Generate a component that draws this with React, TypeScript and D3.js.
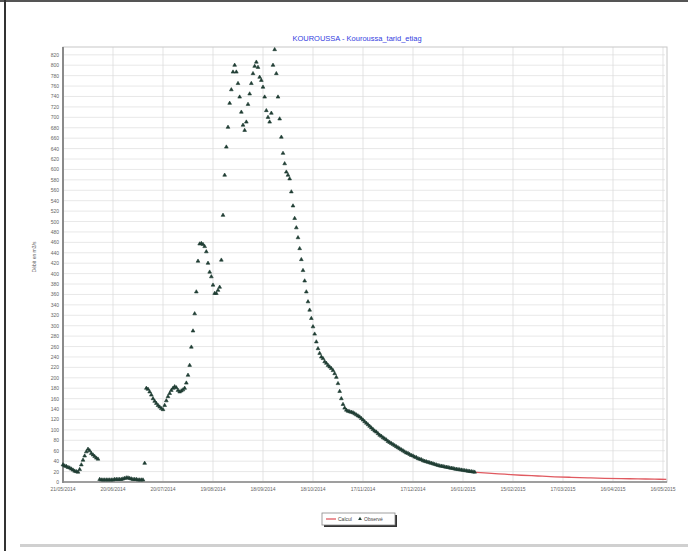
import React from "react";
import * as d3 from "d3";

const title = "KOUROUSSA - Kouroussa_tarid_etiag";
const yTitle = "Débit en m3/s";
const xTickLabels = [
  "21/05/2014", "20/06/2014", "20/07/2014", "19/08/2014", "18/09/2014", "18/10/2014",
  "17/11/2014", "17/12/2014", "16/01/2015", "15/02/2015", "17/03/2015", "16/04/2015", "16/05/2015",
];
const xTickDays = [0, 30, 60, 90, 120, 150, 180, 210, 240, 270, 300, 330, 360];

// Observed discharge, one value per day from 21/05/2014
const obsValues = [
  // days 0-21
  33, 31, 30, 28, 27, 25, 23, 21, 20, 19, 24, 33, 42, 50, 58, 63, 60, 55, 52, 49, 46, 44,
  // days 22-48
  5, 4, 4, 4, 4, 4, 4, 4, 4, 5, 5, 5, 5, 5, 6, 7, 8, 8, 7, 6, 5, 5, 5, 4, 4, 4, 4,
  // day 49
  36,
  // days 50-99
  180, 178, 173, 167, 160, 155, 151, 147, 144, 141, 139, 147, 156, 164, 170, 176, 180, 183, 181, 176,
  173, 175, 177, 180, 190, 205, 224, 259, 290, 323, 365, 424, 457, 458, 456, 452, 442, 420, 403, 394,
  378, 362, 362, 368, 374, 426, 512, 589, 643, 681,
  // days 100-165
  727, 753, 787, 800, 787, 765, 739, 710, 685, 675, 691, 725, 745, 765, 784, 798, 806, 796, 777, 771,
  758, 739, 713, 700, 691, 708, 800, 830, 784, 739, 697, 662, 631, 611, 595, 589, 582, 557, 530, 506,
  488, 469, 448, 427, 406, 386, 365, 346, 330, 314, 298, 284, 269, 256, 247, 240, 237, 231, 228, 224,
  221, 218, 214, 208, 201, 189,
  // days 166-247
  174, 160, 149, 142, 138, 136, 135, 134, 133, 131, 129, 127, 125, 122, 119, 116, 113, 110, 107, 104,
  101, 98, 96, 93, 90, 88, 85, 83, 81, 78, 76, 74, 72, 70, 68, 66, 64, 62, 60, 58,
  56, 55, 53, 51, 50, 48, 47, 45, 44, 43, 41, 40, 39, 38, 37, 36, 35, 34, 33, 32,
  31, 30.5, 30, 29, 28.5, 28, 27, 26.5, 26, 25, 24.5, 24, 23.5, 23, 22.5, 22, 21.5, 21, 20.5, 20,
  19.5, 19,
];
const obsDays = obsValues.map((_, i) => i);

// Calculated recession
const calcDays = [247, 255, 265, 275, 285, 295, 305, 315, 325, 335, 345, 355, 362];
const calcValues = [19, 17, 15, 13, 11.5, 10, 9, 8, 7, 6.5, 6, 5.5, 5];

const W = 688;
const H = 551;
const L = 63, R = 665, T = 47, B = 482;

export default function App() {
  const x = d3.scaleLinear().domain([0, 361.2]).range([L, R]);
  const y = d3.scaleLinear().domain([0, 835]).range([B, T]);
  const yTicks = d3.range(0, 821, 20);
  const line = d3
    .line<number>()
    .x((_, i) => x(calcDays[i]))
    .y((d) => y(d))
    .curve(d3.curveMonotoneX);
  const tri = d3.symbol().type(d3.symbolTriangle).size(6)();
  const font = "Liberation Sans, Arial, sans-serif";
  const legX = 322, legY = 513;
  return (
    <svg
      width={W}
      height={H}
      style={{ position: "absolute", left: 0, top: 0, background: "#fff" }}
      fontFamily={font}
    >
      {/* page frame */}
      <rect x={0} y={0} width={W} height={2} fill="#555" />
      <rect x={4} y={0} width={2} height={H} fill="#333" />
      <rect x={20} y={544} width={W - 20} height={3} fill="#d0d0d0" />

      {/* title */}
      <text x={357} y={41} textAnchor="middle" fontSize={7.5} fill="#3340e0">
        {title}
      </text>

      {/* grid */}
      {yTicks.map((t) => (
        <line key={"h" + t} x1={L} x2={R} y1={y(t)} y2={y(t)} stroke="#e2e2e2" strokeWidth={0.8} />
      ))}
      {xTickDays.map((d) => (
        <line key={"v" + d} x1={x(d)} x2={x(d)} y1={T} y2={B} stroke="#dcdcdc" strokeWidth={0.8} />
      ))}
      <rect x={L} y={T} width={R - L + 2} height={B - T} fill="none" stroke="#c8c8c8" strokeWidth={1} />
      <line x1={L} x2={L} y1={T} y2={B + 1} stroke="#8a8a8a" strokeWidth={2} />
      <line x1={L} x2={R + 2} y1={B} y2={B} stroke="#8a8a8a" strokeWidth={1.5} />

      {/* y ticks */}
      {yTicks.map((t) => (
        <text key={"yl" + t} x={L - 4} y={y(t) + 2} textAnchor="end" fontSize={5} fill="#666">
          {t}
        </text>
      ))}
      <text
        transform={`translate(36,257) rotate(-90)`}
        textAnchor="middle"
        fontSize={5}
        fill="#666"
      >
        {yTitle}
      </text>

      {/* x ticks */}
      {xTickDays.map((d, i) => (
        <text key={"xl" + d} x={x(d)} y={B + 9} textAnchor="middle" fontSize={5} fill="#666">
          {xTickLabels[i]}
        </text>
      ))}

      {/* calc line */}
      <path d={line(calcValues) || ""} fill="none" stroke="#e05a60" strokeWidth={1.3} />

      {/* observed */}
      {obsValues.map((v, i) => (
        <path
          key={"o" + i}
          d={tri || ""}
          transform={`translate(${x(obsDays[i])},${y(v)})`}
          fill="#1f3d33"
          stroke="#1f3d33"
          strokeWidth={0.6}
        />
      ))}

      {/* legend */}
      <rect x={legX + 2} y={legY + 2} width={73} height={12} fill="#333" />
      <rect x={legX} y={legY} width={73} height={12} fill="#fff" stroke="#888" strokeWidth={0.8} />
      <line x1={legX + 4} x2={legX + 14} y1={legY + 6} y2={legY + 6} stroke="#e05a60" strokeWidth={1.3} />
      <text x={legX + 16} y={legY + 8} fontSize={5} fill="#444">
        Calcul
      </text>
      <path d={tri || ""} transform={`translate(${legX + 38},${legY + 6})`} fill="#1f3d33" />
      <text x={legX + 42} y={legY + 8} fontSize={5} fill="#444">
        Observé
      </text>
    </svg>
  );
}
